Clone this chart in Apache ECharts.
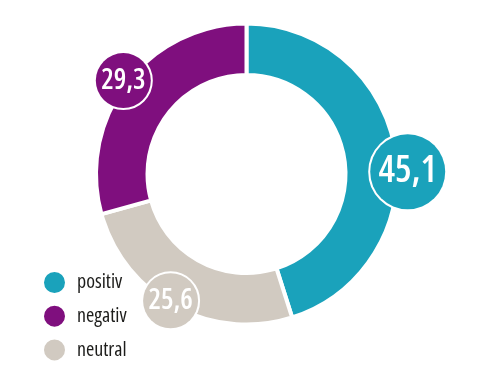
<!DOCTYPE html>
<html>
<head>
<meta charset="utf-8">
<script src="https://cdn.jsdelivr.net/npm/echarts@6/dist/echarts.min.js"></script>
<style>
html,body{margin:0;padding:0;background:#fff;}
#c{width:479px;height:386px;}
</style>
</head>
<body>
<div id="c"></div>
<script>
// data (clockwise from 12 o'clock)
const categories = ['positiv', 'neutral', 'negativ'];
const values = [45.1, 25.6, 29.3];
const colors = ['#1aa2bb', '#d1cac1', '#7f0f7e'];
const legendOrder = ['positiv', 'negativ', 'neutral'];
const bigLabel = [true, false, false];

const FONT = '"Open Sans", "Roboto Condensed", sans-serif';
const STRETCH = 'condensed';
const center = [246.5, 174];

const ringData = categories.map((n, i) => ({
  name: n, value: values[i], itemStyle: { color: colors[i] }
}));

const labelData = categories.map((n, i) => {
  const d = bigLabel[i] ? 75 : 55;
  return {
    name: n,
    value: values[i],
    itemStyle: { color: 'rgba(0,0,0,0)' },
    label: {
      fontSize: bigLabel[i] ? 37 : 28,
      width: d, height: d, lineHeight: d,
      borderRadius: d / 2,
      backgroundColor: colors[i]
    }
  };
});

const chart = echarts.init(document.getElementById('c'), null, { renderer: 'canvas' });
chart.setOption({
  animation: false,
  legend: {
    data: legendOrder,
    orient: 'vertical',
    left: 42,
    top: 270,
    padding: 0,
    itemWidth: 23,
    itemHeight: 23,
    itemGap: 8.7,
    icon: 'circle',
    selectedMode: false,
    textStyle: {
      fontFamily: FONT, fontWeight: STRETCH, fontSize: 20, lineHeight: 23, color: '#1d1d1b',
      padding: [0, 0, 0, 6]
    }
  },
  series: [
    {
      type: 'pie',
      silent: true,
      center: center,
      radius: [99, 150.5],
      startAngle: 90,
      clockwise: true,
      label: { show: false },
      labelLine: { show: false },
      itemStyle: { borderColor: '#ffffff', borderWidth: 4 },
      data: ringData
    },
    {
      type: 'pie',
      silent: true,
      center: center,
      radius: [146, 150],
      startAngle: 90,
      clockwise: true,
      labelLine: { show: false },
      label: {
        show: true,
        position: 'inside',
        rotate: 0,
        overflow: 'none',
        color: '#ffffff',
        fontFamily: FONT,
        fontWeight: STRETCH + ' 600',
        align: 'center',
        verticalAlign: 'middle',
        borderColor: '#ffffff',
        borderWidth: 2,
        padding: 0,
        formatter: p => String(p.value).replace('.', ',')
      },
      labelLayout: function (p) {
        if (p.dataIndex === 0) return { dx: 12, dy: 21 };
        if (p.dataIndex === 1) return { dx: -4, dy: -6 };
        if (p.dataIndex === 2) return { dx: -3, dy: -2 };
        return {};
      },
      data: labelData
    }
  ]
});
</script>
</body>
</html>
